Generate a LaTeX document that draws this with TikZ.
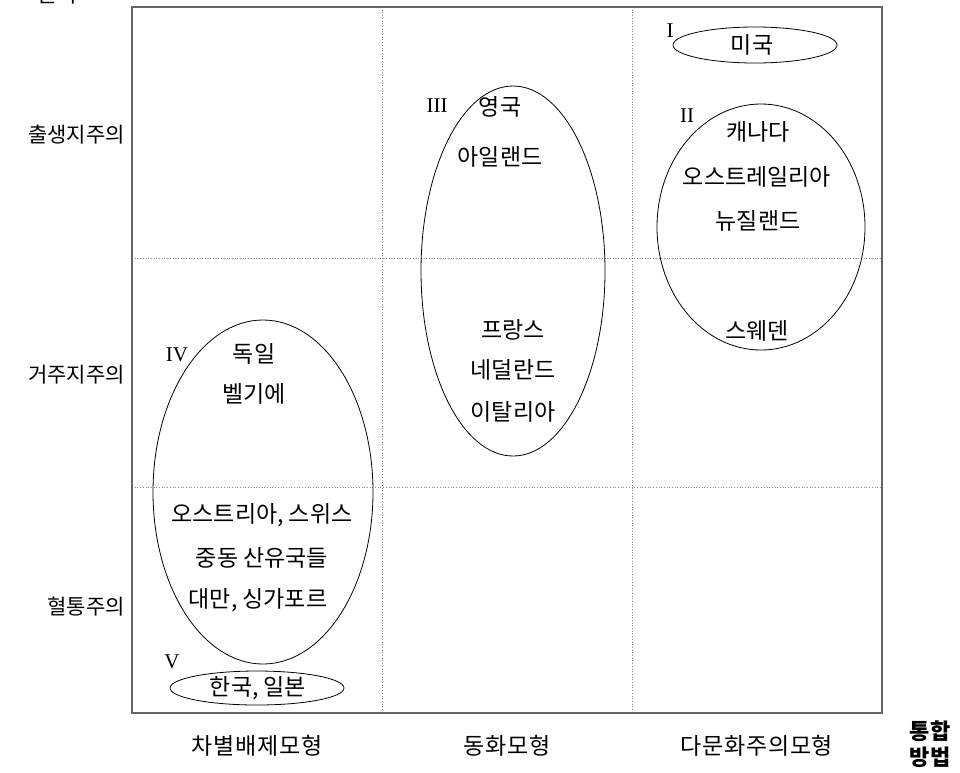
\documentclass[tikz,border=0pt]{standalone}
\usepackage{fontspec}
\setmainfont{Liberation Serif}
\newfontfamily\kr{Noto Sans CJK KR}
\newfontfamily\krsp[LetterSpace=3]{Noto Sans CJK KR}
\usetikzlibrary{shapes.geometric}
\begin{document}
\begin{tikzpicture}[x=1pt,y=-1pt,
  frame/.style={draw=black!60,line width=1.6pt},
  grid/.style={draw=black!45,dotted,line width=0.7pt},
  oval/.style={draw,ellipse,line width=0.8pt,inner sep=0pt},
  inner/.style={font=\kr\fontsize{23}{25}\selectfont,inner sep=0pt},
  rowlab/.style={font=\kr\fontsize{21}{23}\selectfont,inner sep=0pt},
  collab/.style={font=\krsp\fontsize{23}{25}\selectfont,inner sep=0pt},
  roman/.style={font=\fontsize{21}{22}\selectfont,inner sep=0pt}]
\useasboundingbox (0,0) rectangle (960,772);
\begin{scope}
\clip (0,0) rectangle (960,772);
\node[rowlab,anchor=base] (top) at (57,2) {원리};
\end{scope}
% frame and grid
\coordinate (tl) at (132,7);
\coordinate (br) at (882,713);
\coordinate (v1t) at (382,7);   \coordinate (v1b) at (382,713);
\coordinate (v2t) at (632,7);   \coordinate (v2b) at (632,713);
\coordinate (h1l) at (132,258); \coordinate (h1r) at (882,258);
\coordinate (h2l) at (132,487); \coordinate (h2r) at (882,487);
\draw[grid] (v1t) -- (v1b);
\draw[grid] (v2t) -- (v2b);
\draw[grid] (h1l) -- (h1r);
\draw[grid] (h2l) -- (h2r);
\draw[frame] (tl) rectangle (br);
% row labels
\node[rowlab,anchor=east] (r1) at (125,135) {출생지주의};
\node[rowlab,anchor=east] (r2) at (125,375) {거주지주의};
\node[rowlab,anchor=east] (r3) at (125,607) {혈통주의};
% column labels
\node[collab] (c1) at (257,746) {차별배제모형};
\node[collab] (c2) at (507,746) {동화모형};
\node[collab] (c3) at (757,746) {다문화주의모형};
\node[font=\kr\bfseries\fontsize{22}{26}\selectfont,align=center,inner sep=0pt] (ax) at (930,744) {통합\\방법};
% group I
\node[oval,minimum width=164pt,minimum height=36pt] (eI) at (755,45) {};
\node[roman] (lI) at (670,31) {I};
\node[inner] (usa) at (752,45) {미국};
% group II
\node[oval,minimum width=208pt,minimum height=246pt] (eII) at (761,227) {};
\node[roman] (lII) at (687,116) {II};
\node[inner] (can) at (758,132) {캐나다};
\node[inner] (aus) at (757,177) {오스트레일리아};
\node[inner] (nz) at (758,221) {뉴질랜드};
\node[inner] (swe) at (757,331) {스웨덴};
% group III
\node[oval,minimum width=184pt,minimum height=370pt] (eIII) at (513,271) {};
\node[roman] (lIII) at (437,106) {III};
\node[inner] (uk) at (500,107) {영국};
\node[inner] (irl) at (500,157) {아일랜드};
\node[inner] (fra) at (513,330) {프랑스};
\node[inner] (ned) at (513,370) {네덜란드};
\node[inner] (ita) at (513,412) {이탈리아};
% group IV
\node[oval,minimum width=220pt,minimum height=344pt] (eIV) at (263,492) {};
\node[roman] (lIV) at (177,355) {IV};
\node[inner] (ger) at (254,354) {독일};
\node[inner] (bel) at (254,394) {벨기에};
\node[inner] (ach) at (262,515) {오스트리아, 스위스};
\node[inner] (mid) at (262,558) {중동 산유국들};
\node[inner] (twn) at (258,600) {대만, 싱가포르};
% group V
\node[oval,minimum width=174pt,minimum height=34pt] (eV) at (257,688) {};
\node[roman] (lV) at (172,662) {V};
\node[inner] (kor) at (258,688) {한국, 일본};
\end{tikzpicture}
\end{document}
